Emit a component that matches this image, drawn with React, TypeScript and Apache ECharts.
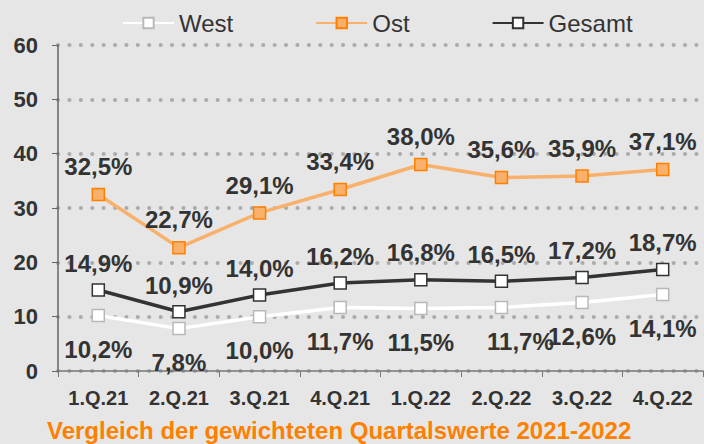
import React, { useEffect, useRef } from "react";
import * as echarts from "echarts";

const categories = ["1.Q.21", "2.Q.21", "3.Q.21", "4.Q.21", "1.Q.22", "2.Q.22", "3.Q.22", "4.Q.22"];
const westValues = [10.2, 7.8, 10.0, 11.7, 11.5, 11.7, 12.6, 14.1];
const ostValues = [32.5, 22.7, 29.1, 33.4, 38.0, 35.6, 35.9, 37.1];
const gesamtValues = [14.9, 10.9, 14.0, 16.2, 16.8, 16.5, 17.2, 18.7];
const titleText = "Vergleich der gewichteten Quartalswerte 2021-2022";

const FONT = "'Liberation Sans', Arial, sans-serif";
const fmt = (v: number) => v.toFixed(1).replace(".", ",") + "%";

export default function App() {
  const ref = useRef<HTMLDivElement>(null);
  useEffect(() => {
    document.body.style.margin = "0";
    const chart = echarts.init(ref.current!, null, { renderer: "svg" });
    const labelBase = {
      show: true,
      fontFamily: FONT,
      fontWeight: "bold" as const,
      fontSize: 24,
      color: "#333333",
      formatter: (p: any) => fmt(p.value),
    };
    chart.setOption({
      animation: false,
      backgroundColor: "#e6e6e6",
      textStyle: { fontFamily: FONT },
      title: {
        text: titleText,
        left: 47,
        top: 419,
        padding: 0,
        textStyle: { color: "#ff7f00", fontWeight: "bold", fontSize: 24, lineHeight: 23, fontFamily: FONT },
      },
      legend: {
        left: 117,
        top: 6,
        itemWidth: 51,
        itemHeight: 13,
        itemGap: 82,
        textStyle: { fontSize: 24, color: "#333333", fontFamily: FONT },
        data: ["West", "Ost", "Gesamt"],
      },
      grid: { left: 58, right: 1, top: 45, bottom: 73 },
      xAxis: {
        type: "category",
        data: categories,
        boundaryGap: true,
        axisLine: { lineStyle: { color: "#777777", width: 1.5 } },
        axisTick: { show: true, length: 6, lineStyle: { color: "#777777" } },
        axisLabel: { color: "#333333", fontWeight: "bold", fontSize: 20, margin: 17, fontFamily: FONT },
      },
      yAxis: {
        type: "value",
        min: 0,
        max: 60,
        interval: 10,
        axisLine: { show: true, lineStyle: { color: "#666666", width: 1.5 } },
        axisTick: { show: true, length: 6, lineStyle: { color: "#666666" } },
        axisLabel: { color: "#333333", fontWeight: "bold", fontSize: 22, margin: 20, fontFamily: FONT },
        splitLine: {
          show: true,
          lineStyle: { color: "#ababab", width: 4, type: [0.1, 11.3], cap: "round" },
        },
      },
      series: [
        {
          name: "Ost",
          type: "line",
          data: ostValues,
          symbol: "rect",
          symbolSize: 12,
          lineStyle: { color: "#f9b06b", width: 3.5 },
          itemStyle: { color: "#f9b06b", borderColor: "#ff7f00", borderWidth: 1.5 },
          label: { ...labelBase, position: "top", distance: 9 },
          z: 3,
        },
        {
          name: "Gesamt",
          type: "line",
          data: gesamtValues,
          symbol: "rect",
          symbolSize: 12,
          lineStyle: { color: "#333333", width: 3.5 },
          itemStyle: { color: "#ffffff", borderColor: "#333333", borderWidth: 1.5 },
          label: { ...labelBase, position: "top", distance: 8 },
          z: 4,
        },
        {
          name: "West",
          type: "line",
          data: westValues.map((v, i) =>
            i === 5 ? { value: v, label: { offset: [19, 0] } } : v
          ),
          symbol: "rect",
          symbolSize: 12,
          lineStyle: { color: "#ffffff", width: 3.5 },
          itemStyle: { color: "#ffffff", borderColor: "#b8b8b8", borderWidth: 1.5 },
          label: { ...labelBase, position: "bottom", distance: 15 },
          z: 2,
        },
      ],
    });
    return () => chart.dispose();
  }, []);
  return <div ref={ref} style={{ width: 704, height: 444 }} />;
}
